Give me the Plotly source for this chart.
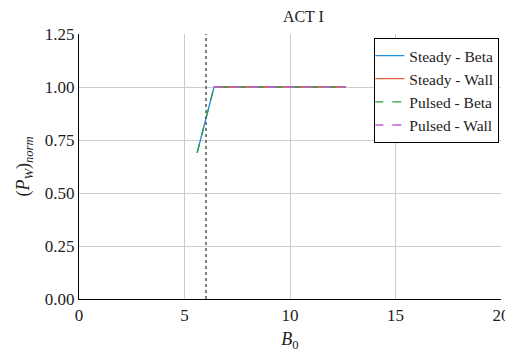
import plotly.graph_objects as go

# B0 values and normalised wall power
beta_b0 = [5.6, 6.4, 12.65]
beta_pw = [0.69, 1.0, 1.0]
wall_b0 = [6.4, 12.65]
wall_pw = [1.0, 1.0]
b0_limit = 6.02

serif = 'Liberation Serif'

fig = go.Figure()

fig.add_trace(go.Scatter(x=beta_b0, y=beta_pw, mode='lines', name='Steady - Beta',
                         line=dict(color='#1f8fe0', width=1.3)))
fig.add_trace(go.Scatter(x=wall_b0, y=wall_pw, mode='lines', name='Steady - Wall',
                         line=dict(color='#e8603c', width=1.3)))
fig.add_trace(go.Scatter(x=beta_b0, y=beta_pw, mode='lines', name='Pulsed - Beta',
                         line=dict(color='#2ca040', width=1.3, dash='dash')))
fig.add_trace(go.Scatter(x=wall_b0, y=wall_pw, mode='lines', name='Pulsed - Wall',
                         line=dict(color='#c060d0', width=1.3, dash='dash')))

fig.add_shape(type='line', x0=b0_limit, x1=b0_limit, y0=0, y1=1.25, xref='x', yref='y',
              line=dict(color='#555555', width=1.5, dash='dot'))

# page body adds an 8px offset, so the figure is a bit smaller than the window
fig.update_layout(
    width=505, height=344,
    margin=dict(l=71, r=12, t=26, b=53, autoexpand=False),
    paper_bgcolor='white', plot_bgcolor='white',
    font=dict(family=serif, size=16, color='#222222'),
    title=dict(text='ACT I', x=0.585, xanchor='center', y=0.975, yanchor='middle',
               font=dict(family=serif, size=16)),
    showlegend=True,
    legend=dict(x=0.996, y=0.985, xanchor='right', yanchor='top',
                bordercolor='black', borderwidth=1, bgcolor='white',
                font=dict(family=serif, size=15.5), tracegroupgap=0,
                itemwidth=30, indentation=-6),
    xaxis=dict(range=[0, 20], tickvals=[0, 5, 10, 15, 20], showgrid=True,
               gridcolor='#cccccc', gridwidth=1, showline=True, linecolor='black',
               linewidth=1.2, zeroline=False, ticks='', automargin=False,
               tickfont=dict(family=serif, size=17),
               title=dict(text='<i>B</i><sub>0</sub>', standoff=10,
                          font=dict(family=serif, size=18))),
    yaxis=dict(range=[0, 1.25], tickvals=[0, 0.25, 0.5, 0.75, 1.0, 1.25],
               tickformat='.2f', showgrid=True, gridcolor='#cccccc', gridwidth=1,
               showline=True, linecolor='black', linewidth=1.2, zeroline=False,
               ticks='', automargin=False, tickfont=dict(family=serif, size=17),
               title=dict(text='(<i>P</i><sub><i>W</i></sub>)<sub><i>norm</i></sub>',
                          standoff=10, font=dict(family=serif, size=18))),
)

fig.write_html("out.html")
